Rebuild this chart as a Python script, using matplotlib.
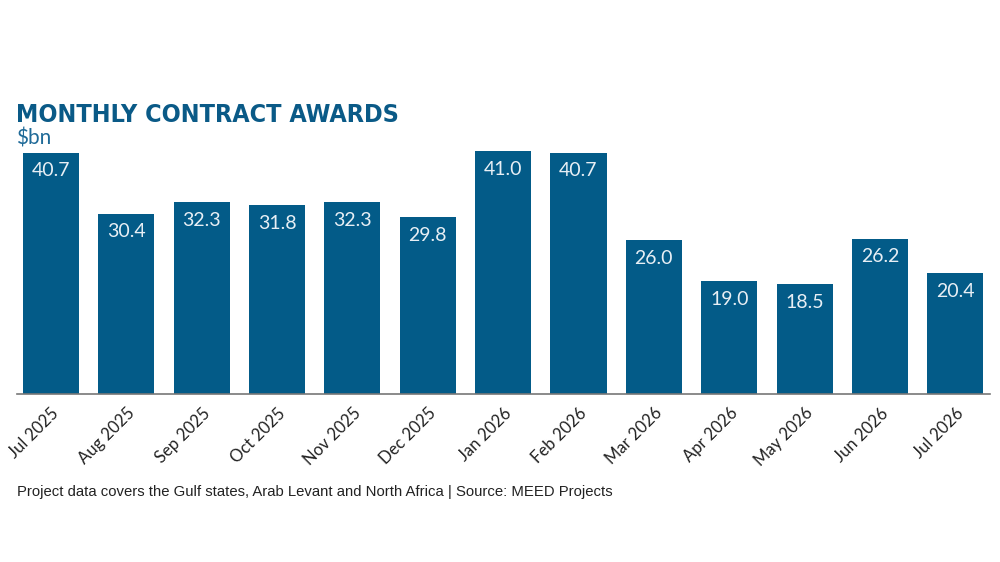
import matplotlib
matplotlib.use("Agg")
import matplotlib.pyplot as plt

months = ["Jul 2025", "Aug 2025", "Sep 2025", "Oct 2025", "Nov 2025", "Dec 2025",
          "Jan 2026", "Feb 2026", "Mar 2026", "Apr 2026", "May 2026", "Jun 2026", "Jul 2026"]
values = [40.7, 30.4, 32.3, 31.8, 32.3, 29.8, 41.0, 40.7, 26.0, 19.0, 18.5, 26.2, 20.4]

title = "MONTHLY CONTRACT AWARDS"
unit = "$bn"
footer = "Project data covers the Gulf states, Arab Levant and North Africa | Source: MEED Projects"

BAR = "#035b88"
fig = plt.figure(figsize=(10, 5.62), dpi=100)
ax = fig.add_axes([0.017, 0.299, 0.973, 0.443])
x = list(range(len(months)))
ax.bar(x, values, width=0.745, color=BAR, zorder=2)
ax.set_xlim(-0.45, len(months) - 1 + 0.46)
ax.set_ylim(0, 42)
for s in ["top", "right", "left"]:
    ax.spines[s].set_visible(False)
ax.spines["bottom"].set_color("#777777")
ax.spines["bottom"].set_linewidth(1.2)
ax.set_yticks([])
ax.set_xticks(x)
ax.set_xticklabels(months, rotation=45, ha="right", rotation_mode="anchor",
                   fontsize=12, color="#222222", family="Lato")
ax.tick_params(axis="x", length=0, pad=8)

for xi, v in zip(x, values):
    ax.annotate(f"{v:.1f}", (xi, v), xytext=(0, -7), textcoords="offset points",
                ha="center", va="top", fontsize=14, color="#e8eff5",
                family="Lato")

fig.text(0.016, 0.783, title, fontsize=18, fontweight="bold", color="#0a5a87",
         family="DejaVu Sans", fontstretch="condensed", va="baseline")
fig.text(0.016, 0.742, unit, fontsize=15, color="#1f6a98", family="Lato",
         va="baseline")
fig.text(0.017, 0.118, footer, fontsize=10.7, color="#222222", family="Liberation Sans",
         va="baseline")

fig.savefig("out.png", dpi=100)
